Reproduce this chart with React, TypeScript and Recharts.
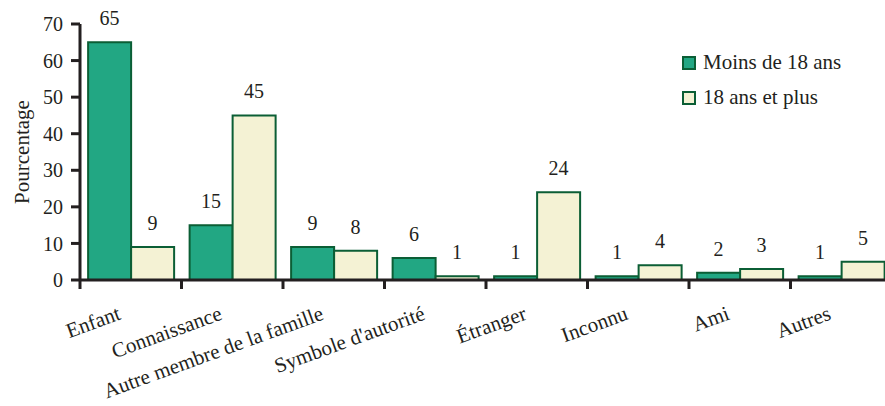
import React from 'react';
import { BarChart, Bar, XAxis, YAxis, Legend, LabelList } from 'recharts';

const categories = [
  'Enfant',
  'Connaissance',
  'Autre membre de la famille',
  "Symbole d'autorité",
  'Étranger',
  'Inconnu',
  'Ami',
  'Autres',
];
const moins18 = [65, 15, 9, 6, 1, 1, 2, 1];
const plus18 = [9, 45, 8, 1, 24, 4, 3, 5];
const yTicks = [0, 10, 20, 30, 40, 50, 60, 70];

const data = categories.map((name, i) => ({
  name,
  moins18: moins18[i],
  plus18: plus18[i],
}));

const FONT = '"Liberation Serif", "DejaVu Serif", serif';
const INK = '#231f20';
const GREEN = '#22a783';
const CREAM = '#f4f2d4';
const EDGE = '#0b5e35';

// graduation à la limite gauche de chaque catégorie + étiquette inclinée
const CategoryTick = (props: any) => {
  const { x, y, payload, index, visibleTicksCount, width } = props;
  const half = payload.offset || width / visibleTicksCount / 2;
  const last = index === visibleTicksCount - 1;
  return (
    <g>
      <line x1={x - half} x2={x - half} y1={y} y2={y + 9} stroke={INK} strokeWidth={3} />
      {last && (
        <line x1={x + half} x2={x + half} y1={y} y2={y + 9} stroke={INK} strokeWidth={3} />
      )}
      <g transform={`translate(${x - 9},${y + 39})`}>
        <text
          textAnchor="end"
          transform="rotate(-20)"
          fontFamily={FONT}
          fontSize={21}
          fill={INK}
        >
          {payload.value}
        </text>
      </g>
    </g>
  );
};

const LegendBox = (props: any) => {
  const { payload } = props;
  return (
    <div style={{ fontFamily: FONT, fontSize: 21, color: INK }}>
      {payload.map((item: any) => (
        <div
          key={item.value}
          style={{ display: 'flex', alignItems: 'center', height: 35 }}
        >
          <span
            style={{
              display: 'inline-block',
              width: 10,
              height: 10,
              background: item.color,
              border: `2px solid ${EDGE}`,
              marginRight: 7,
            }}
          />
          <span>{item.value}</span>
        </div>
      ))}
    </div>
  );
};

const YTitle = (props: any) => {
  const { viewBox } = props;
  const cx = viewBox.x + 22;
  const cy = viewBox.y + viewBox.height / 2;
  return (
    <text
      x={cx}
      y={cy}
      transform={`rotate(-90, ${cx}, ${cy})`}
      textAnchor="middle"
      dominantBaseline="central"
      fontFamily={FONT}
      fontSize={21}
      fill={INK}
    >
      Pourcentage
    </text>
  );
};

export default function App() {
  return (
    <div
      style={{
        position: 'absolute',
        left: 0,
        top: 0,
        width: 885,
        height: 406,
        overflow: 'hidden',
        background: '#fff',
      }}
    >
      <BarChart
        width={900}
        height={406}
        data={data}
        margin={{ top: 24, right: 8, bottom: 0, left: 0 }}
        barCategoryGap="8%"
        barGap={0}
      >
        <XAxis
          dataKey="name"
          height={126}
          interval={0}
          tickSize={0}
          tickMargin={0}
          tickLine={false}
          axisLine={{ stroke: INK, strokeWidth: 3 }}
          tick={<CategoryTick />}
        />
        <YAxis
          width={80}
          domain={[0, 70]}
          ticks={yTicks}
          tickSize={9}
          tickMargin={8}
          tickLine={{ stroke: INK, strokeWidth: 3 }}
          axisLine={{ stroke: INK, strokeWidth: 3 }}
          tick={{ fontFamily: FONT, fontSize: 20, fill: INK }}
          label={<YTitle />}
        />
        <Legend
          layout="vertical"
          verticalAlign="middle"
          align="center"
          itemSorter={(item: any) => (item.dataKey === 'moins18' ? 0 : 1)}
          content={<LegendBox />}
          wrapperStyle={{ top: 45, left: 682, width: 200 }}
        />
        <Bar
          dataKey="moins18"
          name="Moins de 18 ans"
          fill={GREEN}
          stroke={EDGE}
          strokeWidth={2}
          isAnimationActive={false}
        >
          <LabelList
            dataKey="moins18"
            position="top"
            offset={17}
            fontFamily={FONT}
            fontSize={20}
            fill={INK}
          />
        </Bar>
        <Bar
          dataKey="plus18"
          name="18 ans et plus"
          fill={CREAM}
          stroke={EDGE}
          strokeWidth={2}
          isAnimationActive={false}
        >
          <LabelList
            dataKey="plus18"
            position="top"
            offset={17}
            fontFamily={FONT}
            fontSize={20}
            fill={INK}
          />
        </Bar>
      </BarChart>
    </div>
  );
}
